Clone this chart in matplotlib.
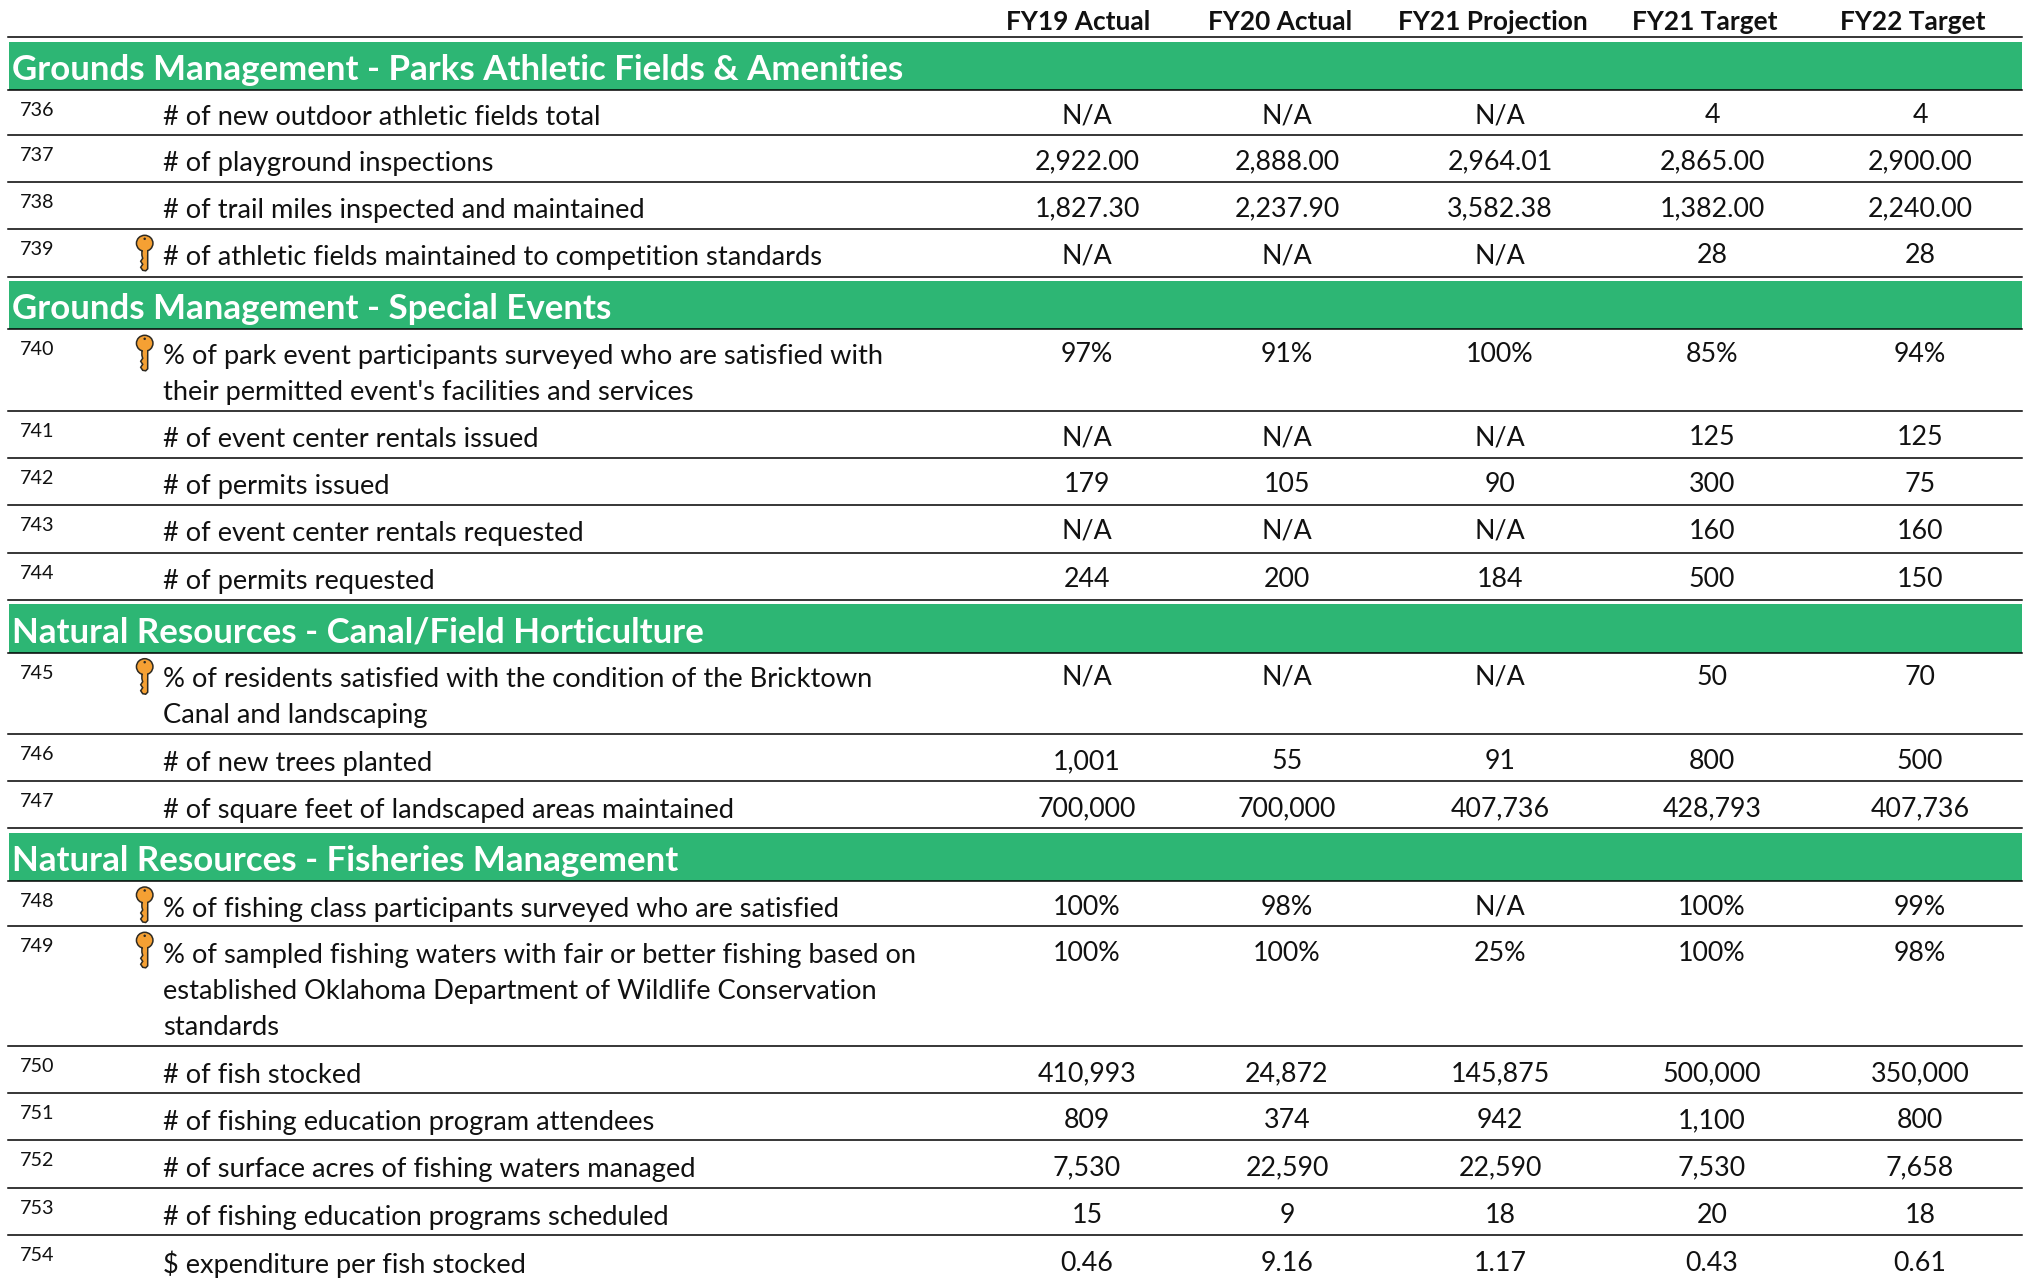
# table of performance measures, drawn in pixel coordinates of the page
import matplotlib
matplotlib.use('Agg')
import matplotlib.pyplot as plt
from matplotlib.patches import Ellipse, Polygon, Rectangle

plt.rcParams['font.family'] = ['Lato', 'DejaVu Sans']

headers = ['FY19 Actual', 'FY20 Actual', 'FY21 Projection', 'FY21 Target', 'FY22 Target']

# section title, then the rows: id, has key, label, values
sec1_title = 'Grounds Management - Parks Athletic Fields & Amenities'
sec1_rows = [
    ('736', 0, '# of new outdoor athletic fields total', ['N/A', 'N/A', 'N/A', '4', '4']),
    ('737', 0, '# of playground inspections', ['2,922.00', '2,888.00', '2,964.01', '2,865.00', '2,900.00']),
    ('738', 0, '# of trail miles inspected and maintained', ['1,827.30', '2,237.90', '3,582.38', '1,382.00', '2,240.00']),
    ('739', 1, '# of athletic fields maintained to competition standards', ['N/A', 'N/A', 'N/A', '28', '28']),
]
sec2_title = 'Grounds Management - Special Events'
sec2_rows = [
    ('740', 1, "% of park event participants surveyed who are satisfied with\ntheir permitted event's facilities and services", ['97%', '91%', '100%', '85%', '94%']),
    ('741', 0, '# of event center rentals issued', ['N/A', 'N/A', 'N/A', '125', '125']),
    ('742', 0, '# of permits issued', ['179', '105', '90', '300', '75']),
    ('743', 0, '# of event center rentals requested', ['N/A', 'N/A', 'N/A', '160', '160']),
    ('744', 0, '# of permits requested', ['244', '200', '184', '500', '150']),
]
sec3_title = 'Natural Resources - Canal/Field Horticulture'
sec3_rows = [
    ('745', 1, '% of residents satisfied with the condition of the Bricktown\nCanal and landscaping', ['N/A', 'N/A', 'N/A', '50', '70']),
    ('746', 0, '# of new trees planted', ['1,001', '55', '91', '800', '500']),
    ('747', 0, '# of square feet of landscaped areas maintained', ['700,000', '700,000', '407,736', '428,793', '407,736']),
]
sec4_title = 'Natural Resources - Fisheries Management'
sec4_rows = [
    ('748', 1, '% of fishing class participants surveyed who are satisfied', ['100%', '98%', 'N/A', '100%', '99%']),
    ('749', 1, '% of sampled fishing waters with fair or better fishing based on\nestablished Oklahoma Department of Wildlife Conservation\nstandards', ['100%', '100%', '25%', '100%', '98%']),
    ('750', 0, '# of fish stocked', ['410,993', '24,872', '145,875', '500,000', '350,000']),
    ('751', 0, '# of fishing education program attendees', ['809', '374', '942', '1,100', '800']),
    ('752', 0, '# of surface acres of fishing waters managed', ['7,530', '22,590', '22,590', '7,530', '7,658']),
    ('753', 0, '# of fishing education programs scheduled', ['15', '9', '18', '20', '18']),
    ('754', 0, '$ expenditure per fish stocked', ['0.46', '9.16', '1.17', '0.43', '0.61']),
]
sections = [(sec1_title, sec1_rows), (sec2_title, sec2_rows), (sec3_title, sec3_rows), (sec4_title, sec4_rows)]

# layout, in pixels
W, H = 2027, 1278
header_x = [1078, 1280, 1493, 1705, 1913]
value_x = [1087, 1287, 1500, 1712, 1920]
left, right = 8, 2022
green = '#2DB674'
band_top = [42, 281, 604, 833]
band_bottom = [90, 329.3, 652.7, 881]
# bottom rule of each row, section by section (the last row has none)
row_bottom = [[135.3, 182.3, 229.3, 277],
              [411.3, 458, 505, 553, 600.3],
              [734.3, 781.3, 828.3],
              [926.3, 1046.3, 1093.3, 1140.3, 1188, 1235, 1282]]
# the text does not sit the same in every row of the original
nudge = {'736': -0.8, '740': -1, '745': -1.8, '746': 0.8, '747': 0.8, '749': 0.8,
         '750': 0.8, '751': 0.8, '752': 1, '753': 1, '754': 2}
line_h = 36.0
fs_body = 19.6
fs_val = 19.3
fs_band = 25.1
fs_head = 18.9
fs_id = 14.2
lw = 1.1


def draw_key(ax, top):
    # small orange key with its teeth on the left of the shaft
    cx = 144.7
    fc, ec = '#F5A033', '#2E2A22'
    shaft = Polygon([(cx - 2.8, top + 13), (cx + 3, top + 13), (cx + 3, top + 33.5), (cx + 1, top + 35.5),
                     (cx - 2, top + 35), (cx - 4, top + 32), (cx - 2, top + 29), (cx - 4, top + 26),
                     (cx - 2, top + 23), (cx - 2.8, top + 20)], closed=True, fc=fc, ec=ec, lw=1.1, zorder=3)
    head = Ellipse((cx, top + 8), 16.5, 16, fc=fc, ec=ec, lw=1.1, zorder=4)
    # hide the join between head and shaft
    join = Rectangle((cx - 2.2, top + 12), 4.6, 8, fc=fc, ec='none', zorder=5)
    hole = Ellipse((cx, top + 3.5), 2.5, 2.5, fc=ec, ec='none', zorder=6)
    for p in [shaft, head, join, hole]:
        ax.add_patch(p)


fig = plt.figure(figsize=(W / 100, H / 100), dpi=100)
ax = fig.add_axes([0, 0, 1, 1])
ax.set_xlim(0, W)
ax.set_ylim(H, 0)
ax.axis('off')

for x, name in zip(header_x, headers):
    ax.text(x, 30.5, name, ha='center', va='baseline', fontsize=fs_head, fontweight='bold', color='#111111')
ax.plot([left, right], [37.3, 37.3], color='black', lw=lw)

for s, (title, rows) in enumerate(sections):
    y0, y1 = band_top[s], band_bottom[s]
    ax.add_patch(Rectangle((left + 1, y0), right - left - 1, y1 - y0, fc=green, ec='none', zorder=1))
    ax.text(12, y1 - 10, title, ha='left', va='baseline', fontsize=fs_band, fontweight='bold', color='white', zorder=2)
    ax.plot([left, right], [y1, y1], color='black', lw=lw, zorder=2)
    y = y1
    for r, (num, key, label, vals) in enumerate(rows):
        dy = nudge.get(num, 0)
        ax.text(20, y + 26, num, ha='left', va='baseline', fontsize=fs_id, color='#111111')
        if key:
            draw_key(ax, y + 6)
        for i, part in enumerate(label.split('\n')):
            ax.text(163, y + 36 + dy + i * line_h, part, ha='left', va='baseline', fontsize=fs_body, color='#111111')
        for x, v in zip(value_x, vals):
            ax.text(x, y + 34 + dy, v, ha='center', va='baseline', fontsize=fs_val, color='#111111')
        y = row_bottom[s][r]
        if num != '754':
            ax.plot([left, right], [y, y], color='black', lw=lw, zorder=2)

fig.savefig('out.png', dpi=100)
